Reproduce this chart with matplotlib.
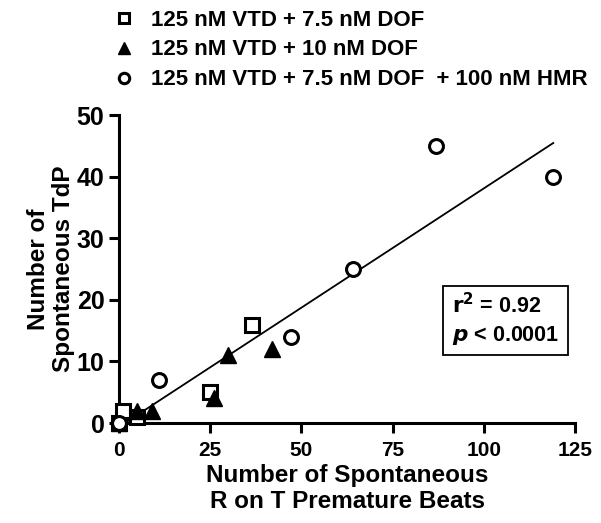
import numpy as np
import matplotlib
matplotlib.use('Agg')
import matplotlib.pyplot as plt

plt.rcParams['font.family'] = ['Liberation Sans', 'DejaVu Sans']
plt.rcParams['font.weight'] = 'bold'

# data
sq_x = [0, 1, 5, 25, 36.5]
sq_y = [0, 2, 1, 5, 16]
tri_x = [0, 5, 9, 26, 30, 42]
tri_y = [0, 2, 2, 4, 11, 12]
circ_x = [0, 11, 47, 64, 87, 119]
circ_y = [0, 7, 14, 25, 45, 40]

labels = ['125 nM VTD + 7.5 nM DOF',
          '125 nM VTD + 10 nM DOF',
          '125 nM VTD + 7.5 nM DOF  + 100 nM HMR']

fig = plt.figure(figsize=(6.01, 5.23), dpi=100)
ax = fig.add_axes([0.198, 0.191, 0.759, 0.589])

# regression line over all points
all_x = np.array(sq_x + tri_x + circ_x)
all_y = np.array(sq_y + tri_y + circ_y)
slope, icpt = np.polyfit(all_x, all_y, 1)
xl = np.array([0, max(all_x)])
ax.plot(xl, slope * xl + icpt, color='black', lw=1.3, zorder=2)

h1, = ax.plot(sq_x, sq_y, 's', ms=10, mfc='white', mec='black', mew=2.2, clip_on=False, zorder=3)
h2, = ax.plot(tri_x, tri_y, '^', ms=11, mfc='black', mec='black', clip_on=False, zorder=3)
h3, = ax.plot(circ_x, circ_y, 'o', ms=10, mfc='white', mec='black', mew=2.2, clip_on=False, zorder=3)

ax.set_xlim(0, 125)
ax.set_ylim(0, 50)
ax.set_xticks([0, 25, 50, 75, 100, 125])
ax.set_yticks([0, 10, 20, 30, 40, 50])
ax.spines['top'].set_visible(False)
ax.spines['right'].set_visible(False)
for s in ['left', 'bottom']:
    ax.spines[s].set_linewidth(2.2)
ax.tick_params(width=2.2, length=7)
ax.tick_params(axis='x', labelsize=15, pad=6)
ax.tick_params(axis='y', labelsize=18, pad=3.5)
for t in ax.get_xticklabels() + ax.get_yticklabels():
    t.set_fontweight('bold')
ax.set_xlabel('Number of Spontaneous\nR on T Premature Beats', fontsize=17.5, fontweight='bold',
              labelpad=3, linespacing=1.15)
ax.set_ylabel('Number of\nSpontaneous TdP', fontsize=17.5, fontweight='bold', labelpad=1,
              linespacing=1.1)

ax.text(0.73, 0.335, '$\\mathbf{r^2}$ = 0.92\n$\\mathbf{\\it{p}}$ < 0.0001', transform=ax.transAxes,
        fontsize=15.5, fontweight='bold', va='center', ha='left', linespacing=1.3,
        bbox=dict(boxstyle='square,pad=0.4', fc='white', ec='black', lw=1.3))

fig.legend([h1, h2, h3], labels, loc='upper left', bbox_to_anchor=(0.155, 1.02),
           frameon=False, prop={'weight': 'bold', 'size': 16},
           markerscale=0.75, handlelength=1.0, handletextpad=0.7, labelspacing=0.4)

fig.savefig('out.png', dpi=100)
